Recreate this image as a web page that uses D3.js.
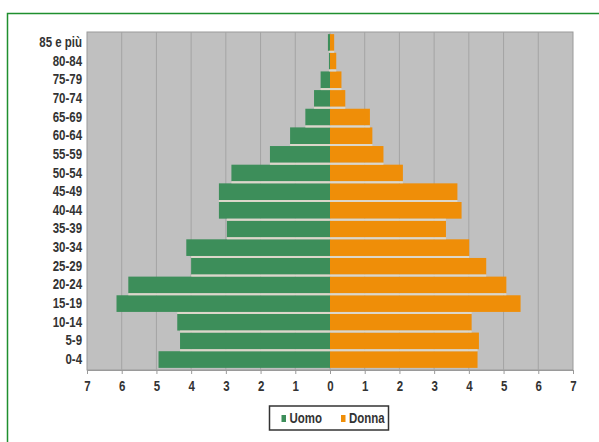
<!DOCTYPE html>
<html><head><meta charset="utf-8">
<script src="https://cdn.jsdelivr.net/npm/d3@7/dist/d3.min.js"></script>
<style>
html,body{margin:0;padding:0;background:#fff;}
svg{display:block;}
</style></head>
<body>
<script>
const categories = ["85 e più","80-84","75-79","70-74","65-69","60-64","55-59","50-54","45-49","40-44","35-39","30-34","25-29","20-24","15-19","10-14","5-9","0-4"];
const uomo  = [0.06,0.03,0.27,0.46,0.71,1.15,1.73,2.84,3.2,3.2,2.97,4.14,4.0,5.81,6.15,4.40,4.32,4.94];
const donna = [0.12,0.18,0.33,0.44,1.15,1.22,1.54,2.10,3.67,3.79,3.34,4.01,4.50,5.08,5.49,4.08,4.29,4.25];
const tickValues = [-7,-6,-5,-4,-3,-2,-1,0,1,2,3,4,5,6,7];
const seriesNames = ["Uomo","Donna"];
const colors = ["#3d8e5a","#ef8e08"];

const W = 599, H = 442;
const SX = 0.82;
const svg = d3.select("body").append("svg").attr("width", W).attr("height", H);
const font = "'Liberation Sans',Arial,sans-serif";

// outer green frame
svg.append("rect").attr("x",7.5).attr("y",13.5).attr("width",W).attr("height",H)
  .attr("fill","#fff").attr("stroke","#1f8f2e").attr("stroke-width",1.5);

const plot = {left:87, right:573, top:32, bottom:370};
const x = d3.scaleLinear().domain([-7,7]).range([plot.left, plot.right]);
const y = d3.scaleBand().domain(categories).range([plot.top, plot.bottom]).paddingInner(0).paddingOuter(0.06);

svg.append("rect").attr("x",plot.left).attr("y",plot.top)
  .attr("width",plot.right-plot.left).attr("height",plot.bottom-plot.top)
  .attr("fill","#c0c0c0").attr("stroke","#9a9a9a").attr("stroke-width",1);

// gridlines
svg.append("g").selectAll("line").data(tickValues.filter(d=>d!==-7 && d!==7)).join("line")
  .attr("x1",d=>x(d)).attr("x2",d=>x(d)).attr("y1",plot.top).attr("y2",plot.bottom)
  .attr("stroke","#a4a4a4").attr("stroke-width",1);

// bars
const g = svg.append("g");
const gap = "#dcd7ca";
g.selectAll("rect.u").data(categories).join("rect").attr("class","u")
  .attr("x",(d,i)=>x(-uomo[i])).attr("width",(d,i)=>x(0)-x(-uomo[i]))
  .attr("y",d=>y(d)+1).attr("height",y.bandwidth()-2).attr("fill",colors[0]);
g.selectAll("rect.d").data(categories).join("rect").attr("class","d")
  .attr("x",x(0)).attr("width",(d,i)=>x(donna[i])-x(0))
  .attr("y",d=>y(d)+1).attr("height",y.bandwidth()-2).attr("fill",colors[1]);
// light separators between adjacent bars
g.selectAll("line.sep").data(categories.slice(1)).join("line").attr("class","sep")
  .attr("x1",(d,i)=>x(-Math.min(uomo[i],uomo[i+1])))
  .attr("x2",(d,i)=>x(Math.min(donna[i],donna[i+1])))
  .attr("y1",d=>y(d)).attr("y2",d=>y(d))
  .attr("stroke",gap).attr("stroke-width",2);

// x axis
const xAxis = d3.axisBottom(x).tickValues(tickValues).tickFormat(d=>Math.abs(d)).tickSize(4).tickPadding(7);
const gx = svg.append("g").attr("transform",`translate(0,${plot.bottom})`).call(xAxis);
gx.select(".domain").attr("stroke","#9a9a9a");
gx.selectAll(".tick line").attr("stroke","#9a9a9a");
gx.selectAll("text").attr("font-family",font).attr("font-weight","bold").attr("font-size",14).attr("fill","#333")
  .attr("transform",`scale(${SX},1)`);

// y axis labels
const yAxis = d3.axisLeft(y).tickSize(0).tickPadding(6);
const gy = svg.append("g").attr("transform",`translate(${plot.left},0)`).call(yAxis);
gy.select(".domain").remove();
gy.selectAll("text").attr("font-family",font).attr("font-weight","bold").attr("font-size",14).attr("fill","#333")
  .attr("x",-5/SX).attr("transform",`scale(${SX},1)`);

// legend
const lg = svg.append("g");
lg.append("rect").attr("x",269.5).attr("y",406).attr("width",119).attr("height",24)
  .attr("fill","#fff").attr("stroke","#333").attr("stroke-width",1.5);
const items = [{name:seriesNames[0],c:colors[0],x:281.5},{name:seriesNames[1],c:colors[1],x:341}];
items.forEach(it=>{
  lg.append("rect").attr("x",it.x).attr("y",415).attr("width",4.5).attr("height",7).attr("fill",it.c);
  lg.append("g").attr("transform",`translate(${it.x+8},423)`)
    .append("text").attr("transform",`scale(${SX},1)`).text(it.name)
    .attr("font-family",font).attr("font-weight","bold").attr("font-size",14).attr("fill","#333");
});
</script>
</body></html>
